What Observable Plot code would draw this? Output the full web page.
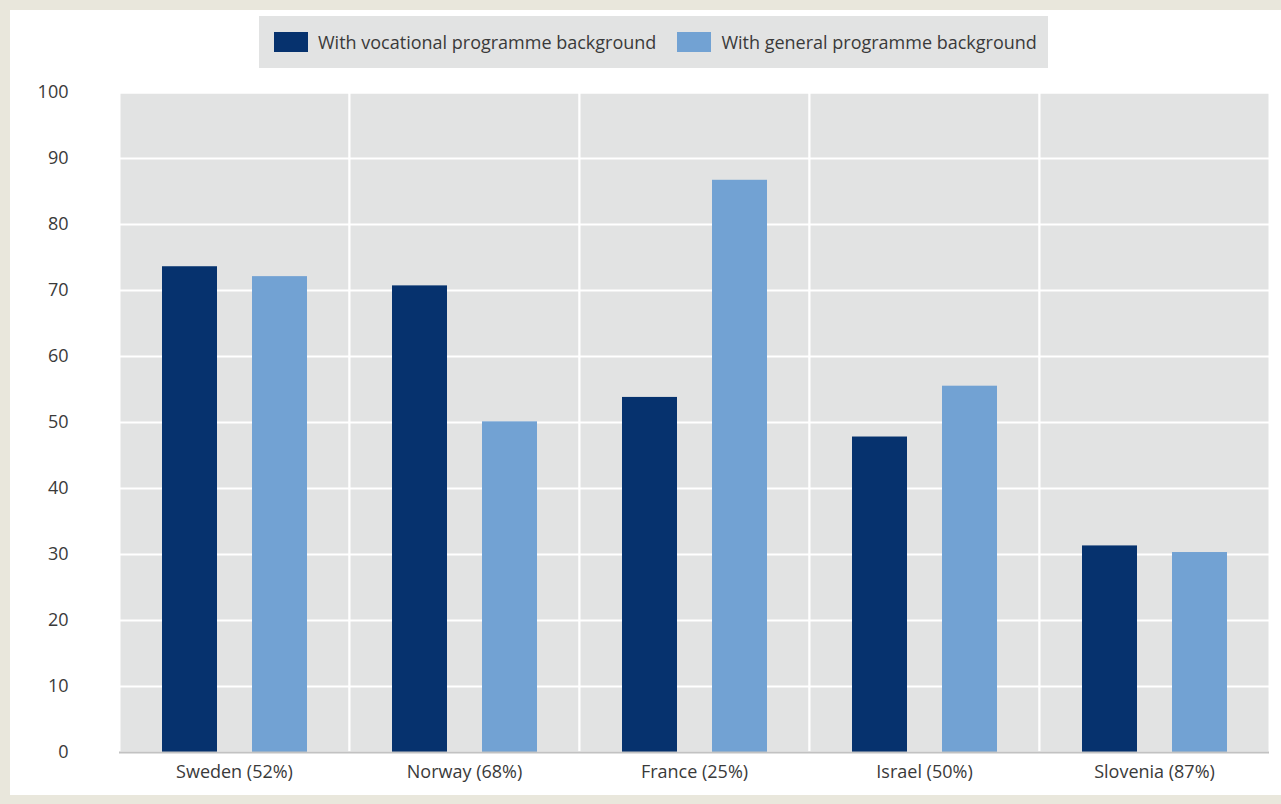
<!DOCTYPE html>
<html>
<head>
<meta charset="utf-8">
<script src="https://cdn.jsdelivr.net/npm/d3@7"></script>
<script src="https://cdn.jsdelivr.net/npm/@observablehq/plot@0.6"></script>
<style>
  html, body { margin: 0; padding: 0; background: #e9e7dc; }
  body { width: 1281px; height: 804px; position: relative; overflow: hidden; font-family: "Open Sans", "Noto Sans", sans-serif; }
  #panel { position: absolute; left: 10px; top: 10px; width: 1271px; height: 785px; background: #ffffff; }
  #legend { position: absolute; left: 249px; top: 6px; width: 789px; height: 52px; background: #e2e3e3;
            display: flex; align-items: center; font-size: 18px; color: #3a3a3a; z-index: 1; }
  .sw { width: 34px; height: 20px; display: inline-block; margin-right: 10px; }
  .item { display: flex; align-items: center; }
  #chart { position: absolute; left: 0; top: 60px; }
</style>
</head>
<body>
<div id="panel">
  <div id="chart"></div>
  <div id="legend"></div>
</div>
<script>
const countries = ["Sweden (52%)", "Norway (68%)", "France (25%)", "Israel (50%)", "Slovenia (87%)"];
const series = ["With vocational programme background", "With general programme background"];
const vocational = [73.6, 70.7, 53.8, 47.8, 31.3];
const general = [72.1, 50.1, 86.7, 55.5, 30.3];
const colors = ["#06326e", "#72a2d3"];
const yTicks = [0, 10, 20, 30, 40, 50, 60, 70, 80, 90, 100];

const data = [];
countries.forEach((c, i) => {
  data.push({country: c, series: series[0], value: vocational[i]});
  data.push({country: c, series: series[1], value: general[i]});
});

// legend
const legend = document.getElementById("legend");
series.forEach((s, i) => {
  const item = document.createElement("div");
  item.className = "item";
  item.style.marginLeft = i === 0 ? "15px" : "21px";
  const sw = document.createElement("span");
  sw.className = "sw";
  sw.style.background = colors[i];
  item.appendChild(sw);
  const t = document.createElement("span");
  t.textContent = s;
  item.appendChild(t);
  legend.appendChild(item);
});

const chart = Plot.plot({
  width: 1271,
  height: 725,
  marginTop: 22,
  marginLeft: 107,
  marginRight: 10,
  marginBottom: 43,
  style: {fontFamily: "'Open Sans', 'Noto Sans', sans-serif", fontSize: "18px", color: "#3a3a3a", background: "transparent"},
  fx: {domain: countries, padding: 0, label: null, axis: "bottom", tickSize: 0, tickPadding: 13},
  x: {domain: series, paddingInner: 0.39, paddingOuter: 0.46, axis: null},
  y: {domain: [0, 100], ticks: yTicks, tickSize: 0, tickPadding: 51, label: null},
  color: {domain: series, range: colors},
  marks: [
    Plot.frame({fill: "#e2e3e3", stroke: "#ffffff", strokeWidth: 2}),
    Plot.gridY(yTicks, {stroke: "#ffffff", strokeOpacity: 1, strokeWidth: 2}),
    Plot.barY(data, {fx: "country", x: "series", y: "value", fill: "series"}),
    Plot.ruleY([0], {stroke: "#c2c2c2", strokeWidth: 2})
  ]
});
document.getElementById("chart").appendChild(chart);
</script>
</body>
</html>
